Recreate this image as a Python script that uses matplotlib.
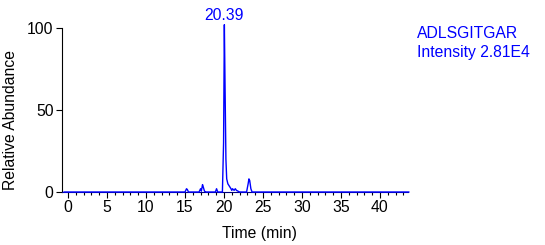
import matplotlib
matplotlib.use('Agg')
import matplotlib.pyplot as plt
from matplotlib.ticker import MultipleLocator

plt.rcParams['font.family'] = ['Liberation Sans', 'DejaVu Sans']

# chromatogram (time in min, relative abundance in %)
time_min = [-0.5, 15.0, 15.2, 15.3, 15.45, 16.8, 17.0, 17.1, 17.25, 17.35, 17.5, 17.7,
            18.9, 19.05, 19.2, 19.8, 19.95, 20.05, 20.15, 20.25, 20.35, 20.5, 20.7,
            20.9, 21.0, 21.1, 21.3, 21.45, 21.6, 21.8, 22.0, 22.9, 23.1, 23.2, 23.3,
            23.45, 23.6, 43.7]
abundance = [0, 0, 2, 1.5, 0, 0, 2, 0.5, 4.5, 3, 0.5, 0,
             0, 2, 0, 0, 30, 102, 60, 20, 8, 5, 3.5,
             2, 1, 2, 1, 2, 1, 0.5, 0, 0, 5, 8, 7,
             2, 0, 0]

peak_label = '20.39'
peak_time = 20.05
peak_height = 102
peptide = 'ADLSGITGAR'
intensity = 'Intensity 2.81E4'

blue = '#0000ff'
fs = 11.3

fig = plt.figure(figsize=(5.45, 2.45), dpi=100)
ax = fig.add_axes([62 / 545, 1 - 192 / 245, (408 - 62) / 545, (192 - 28) / 245])

ax.plot(time_min, abundance, color=blue, lw=1.0, clip_on=False, zorder=3)

ax.set_xlim(-0.77, 43.6)
ax.set_ylim(0, 100)
ax.set_yticks([0, 50, 100])
ax.xaxis.set_major_locator(MultipleLocator(5))
ax.xaxis.set_minor_locator(MultipleLocator(1))
ax.set_xticks(range(0, 45, 5))

for s in ['top', 'right']:
    ax.spines[s].set_visible(False)
ax.spines['bottom'].set_color('#000080')
ax.tick_params(axis='both', which='major', length=4, width=0.8, labelsize=fs,
               direction='out', pad=2)
ax.tick_params(axis='x', which='minor', length=2, width=0.8)

ax.text(peak_time, peak_height + 1, peak_label, color=blue, fontsize=fs,
        ha='center', va='bottom')

fig.text(417 / 545, 1 - 33 / 245, peptide, color=blue, fontsize=fs, va='center')
fig.text(417 / 545, 1 - 52 / 245, intensity, color=blue, fontsize=fs, va='center')

fig.text(259.5 / 545, 1 - 233 / 245, 'Time (min)', fontsize=fs, ha='center', va='center')
fig.text(11 / 545, 1 - 120 / 245, 'Relative Abundance', fontsize=fs, ha='center',
         va='center', rotation=90)

fig.savefig('out.png', dpi=100)
